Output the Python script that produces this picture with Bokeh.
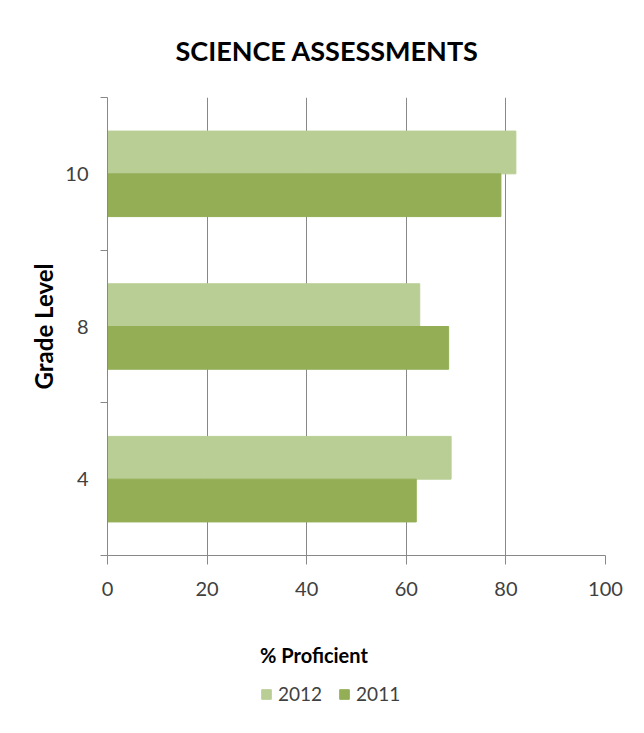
from bokeh.plotting import figure
from bokeh.layouts import column
from bokeh.models import (ColumnDataSource, Range1d, Legend, LegendItem,
                          FixedTicker, LinearAxis)
from bokeh.transform import dodge
from bokeh.embed import file_html
from bokeh.resources import INLINE

# ---- data ----
grades = ["4", "8", "10"]
pct_2012 = [69, 62.7, 82]
pct_2011 = [62, 68.5, 79]
series_names = ["2012", "2011"]
x_ticks = [0, 20, 40, 60, 80, 100]

# category slots (one unit per grade) and their separators
ypos = [i + 0.5 for i in range(len(grades))]
boundaries = [float(i) for i in range(len(grades) + 1)]

c2012 = "#B9CE95"
c2011 = "#93AE55"
grid_c = "#888888"
txt_c = "#404040"
FONT = "Lato"

src = ColumnDataSource(dict(grade=grades, ypos=ypos, y2012=pct_2012, y2011=pct_2011))

p = figure(frame_width=498, frame_height=458,
           y_range=Range1d(boundaries[0], boundaries[-1]),
           x_range=Range1d(0, 100),
           y_axis_location=None,
           output_backend="svg", toolbar_location=None,
           min_border_left=107, min_border_right=23,
           min_border_top=97, min_border_bottom=62)

r12 = p.hbar(y=dodge("ypos", 0.14), right="y2012", left=0,
             height=0.28, color=c2012, source=src)
r11 = p.hbar(y=dodge("ypos", -0.14), right="y2011", left=0,
             height=0.28, color=c2011, source=src)

p.outline_line_color = None
p.xgrid.grid_line_color = grid_c
p.xgrid.grid_line_width = 1
p.ygrid.visible = False

# x axis
xa = p.xaxis[0]
xa.ticker = FixedTicker(ticks=x_ticks)
xa.minor_tick_line_color = None
xa.axis_line_color = grid_c
xa.major_tick_line_color = grid_c
xa.major_tick_out = 9
xa.major_tick_in = 0
xa.major_label_standoff = 17
xa.major_label_text_font = FONT
xa.major_label_text_font_size = "20px"
xa.major_label_text_color = txt_c

# y axis: separator ticks between categories
tick_axis = LinearAxis(ticker=FixedTicker(ticks=boundaries),
                       major_label_overrides={b: "" for b in boundaries},
                       axis_line_color=grid_c, major_tick_line_color=grid_c,
                       major_tick_out=7, major_tick_in=0,
                       minor_tick_line_color=None, major_label_standoff=0)
p.add_layout(tick_axis, "left")

# y axis: category labels
cat_axis = LinearAxis(ticker=FixedTicker(ticks=ypos),
                      major_label_overrides={y: g for y, g in zip(ypos, grades)},
                      axis_line_color=None, major_tick_line_color=None,
                      minor_tick_line_color=None,
                      major_label_standoff=6,
                      major_label_text_font=FONT,
                      major_label_text_font_size="20px",
                      major_label_text_color=txt_c,
                      axis_label="Grade Level", axis_label_standoff=4,
                      axis_label_text_font=FONT,
                      axis_label_text_font_style="bold",
                      axis_label_text_font_size="24px",
                      axis_label_text_color="#000000")
p.add_layout(cat_axis, "left")

p.title.text = "SCIENCE ASSESSMENTS"
p.title.align = "left"
p.title.offset = 68
p.title.text_font = FONT
p.title.text_font_size = "27px"
p.title.text_font_style = "bold"
p.title.text_color = "#000000"
p.title.standoff = 62

# ---- strip below the chart: x-axis title + legend ----
p2 = figure(width=628, height=100, x_range=Range1d(0, 1), y_range=Range1d(0, 1),
            x_axis_location=None, y_axis_location=None,
            output_backend="svg", toolbar_location=None, min_border=0)
p2.outline_line_color = None
p2.xgrid.visible = False
p2.ygrid.visible = False
# legend swatch proxies (kept outside the visible range)
k12 = p2.rect(x=-5, y=-5, width=0.1, height=0.1, color=c2012)
k11 = p2.rect(x=-5, y=-5, width=0.1, height=0.1, color=c2011)

legend = Legend(items=[LegendItem(label=series_names[0], renderers=[k12]),
                       LegendItem(label=series_names[1], renderers=[k11])],
                title="% Proficient",
                title_text_font=FONT, title_text_font_size="20px",
                title_text_font_style="bold", title_text_color="#000000",
                title_standoff=15,
                orientation="horizontal", location=(153, 12),
                border_line_color=None, background_fill_alpha=0,
                glyph_width=12, glyph_height=12, label_standoff=6, spacing=16,
                label_text_font=FONT, label_text_font_size="19px",
                label_text_color=txt_c, padding=2, margin=0)
p2.add_layout(legend, "center")

layout = column(p, p2, spacing=0)
open("out.html", "w").write(file_html(layout, INLINE))
